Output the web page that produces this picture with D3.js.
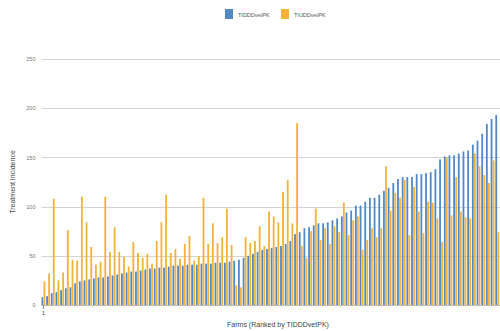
<!DOCTYPE html>
<html>
<head>
<meta charset="utf-8">
<script src="https://cdn.jsdelivr.net/npm/d3@7"></script>
<style>
  html, body { margin: 0; padding: 0; background: #fff; }
  svg { display: block; font-family: "Liberation Sans", Arial, sans-serif; }
</style>
</head>
<body>
<svg id="chart" width="500" height="331"></svg>
<script>
// Farms ranked by TIDDDvetPK (1 = lowest)
const seriesNames = ["TIDDDvetPK", "TIUDDvetPK"];
const tidddVetPK = [
  8, 9, 12, 13, 15, 17, 18, 22, 24, 25, 26, 27, 28, 28, 29, 30, 31, 32, 33, 34,
  34, 35, 36, 37, 37, 38, 38, 39, 40, 40, 40,
  41, 41, 41, 42, 42, 42, 43, 43, 43, 44, 45, 46, 48, 50, 52, 54, 56, 57, 58, 59,
  60, 62, 65, 72, 74, 78, 79, 81, 83, 83, 84,
  86, 88, 90, 94, 96, 101, 101, 105, 109, 109, 112, 116, 119, 124, 128, 130, 130, 130,
  133, 133, 134, 135, 138, 148, 151, 152, 152, 154, 156, 157, 163, 167, 174, 184, 189, 193,
  232
];
const tiuddVetPK = [
  24, 32, 108, 25, 33, 76, 46, 45, 110, 84, 59, 41, 44, 110, 54, 79, 54, 49, 39, 64,
  53, 48, 52, 42, 65, 84, 112, 53, 57, 47, 62,
  70, 45, 50, 109, 62, 83, 63, 69, 98, 61, 20, 18, 69, 63, 65, 80, 60, 95, 90, 84,
  115, 127, 83, 185, 60, 48, 75, 98, 66, 78, 62,
  80, 74, 104, 71, 86, 90, 56, 66, 78, 69, 78, 141, 96, 114, 109, 127, 71, 120,
  95, 73, 105, 104, 88, 64, 150, 91, 130, 95, 89, 88, 154, 141, 132, 124, 147, 74,
  0
];
const yTicks = [0, 50, 100, 150, 200, 250];
const xTickLabels = ["1"];
const farms = tidddVetPK.map((_, i) => i + 1);

const colors = { TIDDDvetPK: "#5088c8", TIUDDvetPK: "#f5b237" };

const svg = d3.select("#chart");
const margin = { left: 41.5, top: 59, bottom: 305 };

const x = d3.scaleBand()
  .domain(farms)
  .range([margin.left, margin.left + farms.length * 4.67])
  .paddingInner(0.18)
  .paddingOuter(0);

const xSub = d3.scaleBand()
  .domain(seriesNames)
  .range([0, x.bandwidth()])
  .paddingInner(0.12);

const y = d3.scaleLinear().domain([0, 250]).range([margin.bottom, margin.top]);

// Gridlines and y tick labels
const grid = svg.append("g").attr("class", "grid");
grid.selectAll("line")
  .data(yTicks)
  .join("line")
  .attr("x1", margin.left)
  .attr("x2", 500)
  .attr("y1", d => Math.round(y(d)) + 0.5)
  .attr("y2", d => Math.round(y(d)) + 0.5)
  .attr("stroke", d => d === 0 ? "#bdbdbd" : "#d4d4d4")
  .attr("stroke-width", 1);

const yAxis = d3.axisLeft(y).tickValues(yTicks).tickSize(0).tickPadding(6);
svg.append("g")
  .attr("transform", `translate(${margin.left},0)`)
  .call(yAxis)
  .call(g => g.select(".domain").remove())
  .call(g => g.selectAll("text").attr("fill", "#777").attr("font-size", 5.5));

// Bars: one group per farm, two series side by side
const rows = farms.map((f, i) => ({ farm: f, values: [
  { key: "TIDDDvetPK", value: tidddVetPK[i] },
  { key: "TIUDDvetPK", value: tiuddVetPK[i] }
]}));

svg.append("g")
  .selectAll("g")
  .data(rows)
  .join("g")
  .attr("transform", d => `translate(${x(d.farm)},0)`)
  .selectAll("rect")
  .data(d => d.values)
  .join("rect")
  .attr("x", d => xSub(d.key))
  .attr("width", xSub.bandwidth())
  .attr("y", d => y(d.value))
  .attr("height", d => y(0) - y(d.value))
  .attr("fill", d => colors[d.key]);

// x axis: only the first farm is labelled
const xAxis = d3.axisBottom(x).tickValues([1]).tickFormat((d, i) => xTickLabels[i]).tickSize(4).tickPadding(2);
svg.append("g")
  .attr("transform", `translate(0,${margin.bottom})`)
  .call(xAxis)
  .call(g => g.select(".domain").remove())
  .call(g => g.selectAll("line").attr("stroke", "#888"))
  .call(g => g.selectAll("text").attr("fill", "#555").attr("font-size", 6));

// Axis titles
svg.append("text")
  .attr("transform", "translate(15,182) rotate(-90)")
  .attr("text-anchor", "middle")
  .attr("font-size", 7)
  .attr("fill", "#444")
  .text("Treatment Incidence");

svg.append("text")
  .attr("x", 278)
  .attr("y", 327)
  .attr("text-anchor", "middle")
  .attr("font-size", 7)
  .attr("fill", "#444")
  .text("Farms (Ranked by TIDDDvetPK)");

// Legend
const legend = svg.append("g").attr("class", "legend");
const legendItems = [
  { key: "TIDDDvetPK", x: 225 },
  { key: "TIUDDvetPK", x: 281 }
];
const li = legend.selectAll("g").data(legendItems).join("g")
  .attr("transform", d => `translate(${d.x},9)`);
li.append("rect").attr("width", 8).attr("height", 10).attr("fill", d => colors[d.key]);
li.append("text").attr("x", 13).attr("y", 7.5).attr("font-size", 5.5).attr("fill", "#555").text(d => d.key);
</script>
</body>
</html>
